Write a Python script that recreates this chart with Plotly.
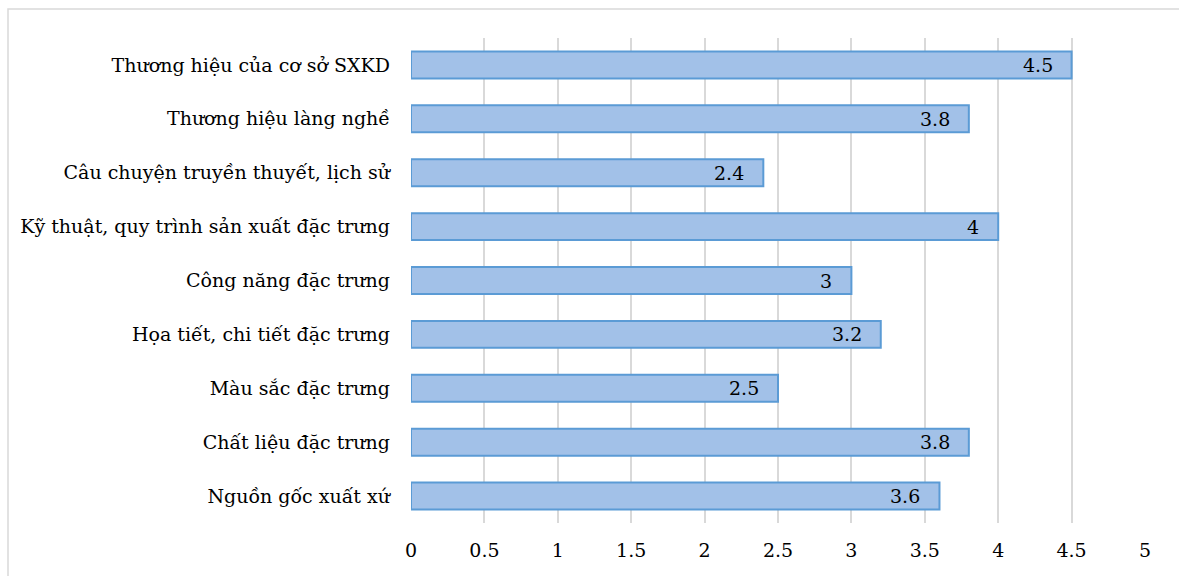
import plotly.graph_objects as go

categories = [
    "Thương hiệu của cơ sở SXKD",
    "Thương hiệu làng nghề",
    "Câu chuyện truyền thuyết, lịch sử",
    "Kỹ thuật, quy trình sản xuất đặc trưng",
    "Công năng đặc trưng",
    "Họa tiết, chi tiết đặc trưng",
    "Màu sắc đặc trưng",
    "Chất liệu đặc trưng",
    "Nguồn gốc xuất xứ",
]
values = [4.5, 3.8, 2.4, 4, 3, 3.2, 2.5, 3.8, 3.6]
x_ticks = [0, 0.5, 1, 1.5, 2, 2.5, 3, 3.5, 4, 4.5, 5]
x_tick_text = ["0", "0.5", "1", "1.5", "2", "2.5", "3", "3.5", "4", "4.5", "5"]

W, H = 1179, 576
ML, MR, MT, MB = 411, 34, 38, 53
FONT = "DejaVu Serif"
FS = 19

fig = go.Figure()
fig.add_trace(go.Bar(
    y=categories,
    x=values,
    orientation="h",
    width=0.5,
    marker=dict(color="#a2c1e8", line=dict(color="#5b9bd5", width=2)),
    hoverinfo="x+y",
))

# value labels near the end of each bar
for c, v in zip(categories, values):
    fig.add_annotation(
        x=v, y=c, xref="x", yref="y",
        text=f"{v:g}", showarrow=False,
        xanchor="right", yanchor="middle", xshift=-17,
        font=dict(family=FONT, size=FS, color="#000000"),
    )

# outer chart frame
pw = W - ML - MR
ph = H - MT - MB
fig.add_shape(
    type="rect", xref="paper", yref="paper",
    x0=(8 - ML) / pw, x1=(W + 5 - ML) / pw,
    y0=-(H + 5 - MT - ph) / ph, y1=(MT - 9) / ph + 1,
    line=dict(color="#d9d9d9", width=1.5), fillcolor="rgba(0,0,0,0)",
    layer="below",
)

fig.update_layout(
    width=W, height=H,
    margin=dict(l=ML, r=MR, t=MT, b=MB, pad=0),
    paper_bgcolor="white", plot_bgcolor="white",
    showlegend=False,
    font=dict(family=FONT, size=FS, color="#000000"),
    bargap=0.5,
)
fig.update_xaxes(
    range=[0, 5], tickvals=x_ticks, ticktext=x_tick_text,
    showgrid=True, gridcolor="#d9d9d9", gridwidth=1.5,
    zeroline=False, showline=False, ticks="",
    ticklabelstandoff=14, automargin=False,
    tickfont=dict(family=FONT, size=FS, color="#000000"),
)
fig.update_yaxes(
    autorange="reversed", showgrid=False, zeroline=False, showline=False,
    ticks="", ticklabelstandoff=20, automargin=False,
    tickfont=dict(family=FONT, size=FS, color="#000000"),
)

fig.write_html("out.html")
